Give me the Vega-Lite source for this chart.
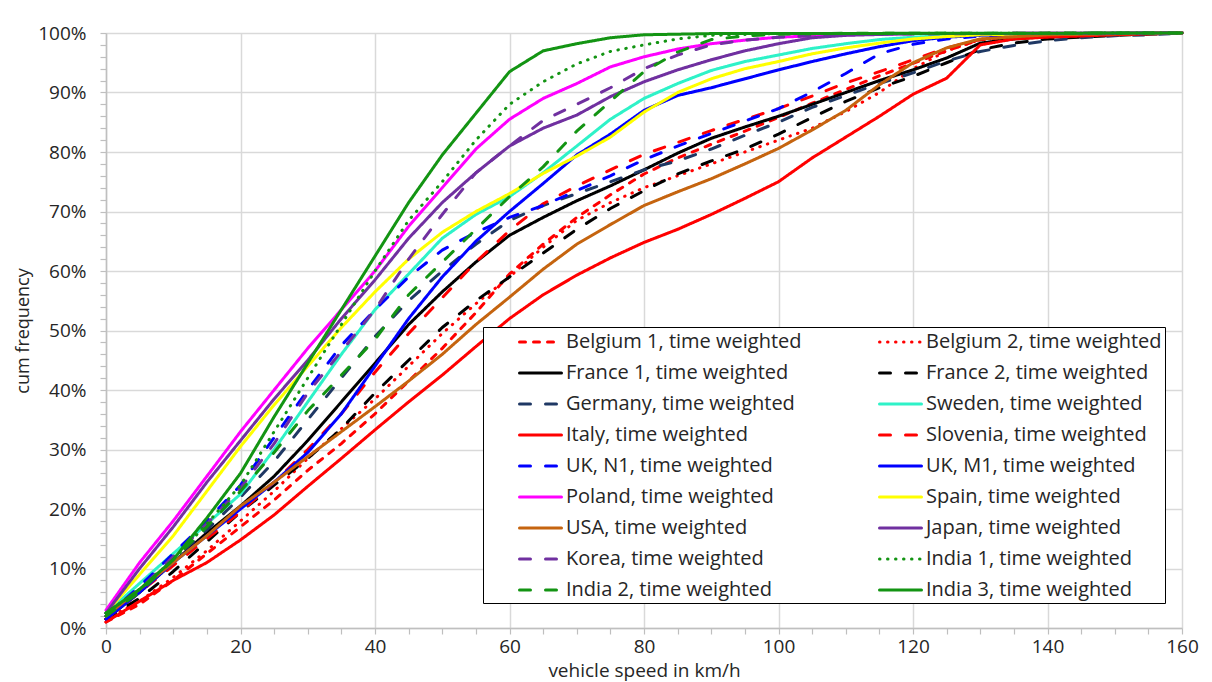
{
  "$schema": "https://vega.github.io/schema/vega-lite/v6.json",
  "width": 1076,
  "height": 595,
  "autosize": {"type": "none"},
  "padding": {"left": 106, "top": 33, "right": 30, "bottom": 54},
  "background": "white",
  "config": {"view": {"stroke": null}, "font": "Open Sans"},
  "data": {"values": [
{"s":"Belgium 1","v":0,"p":1},{"s":"Belgium 1","v":5,"p":4},{"s":"Belgium 1","v":10,"p":8},{"s":"Belgium 1","v":15,"p":12.5},{"s":"Belgium 1","v":20,"p":17},{"s":"Belgium 1","v":25,"p":21.5},{"s":"Belgium 1","v":30,"p":26.5},{"s":"Belgium 1","v":35,"p":31},{"s":"Belgium 1","v":40,"p":36},{"s":"Belgium 1","v":45,"p":41.5},{"s":"Belgium 1","v":50,"p":47},{"s":"Belgium 1","v":55,"p":53},{"s":"Belgium 1","v":60,"p":59.5},{"s":"Belgium 1","v":65,"p":64.5},{"s":"Belgium 1","v":70,"p":69},{"s":"Belgium 1","v":75,"p":72.8},{"s":"Belgium 1","v":80,"p":76.3},{"s":"Belgium 1","v":85,"p":79},{"s":"Belgium 1","v":90,"p":81.3},{"s":"Belgium 1","v":95,"p":83.5},{"s":"Belgium 1","v":100,"p":85.8},{"s":"Belgium 1","v":105,"p":88.2},{"s":"Belgium 1","v":110,"p":90.5},{"s":"Belgium 1","v":115,"p":92.8},{"s":"Belgium 1","v":120,"p":94.9},{"s":"Belgium 1","v":125,"p":97},{"s":"Belgium 1","v":130,"p":98.9},{"s":"Belgium 1","v":135,"p":99.4},{"s":"Belgium 1","v":140,"p":99.7},{"s":"Belgium 1","v":150,"p":99.9},{"s":"Belgium 1","v":160,"p":100},
{"s":"Belgium 2","v":0,"p":1.5},{"s":"Belgium 2","v":5,"p":4.5},{"s":"Belgium 2","v":10,"p":8.5},{"s":"Belgium 2","v":15,"p":13},{"s":"Belgium 2","v":20,"p":18},{"s":"Belgium 2","v":25,"p":23},{"s":"Belgium 2","v":30,"p":28.5},{"s":"Belgium 2","v":35,"p":33.5},{"s":"Belgium 2","v":40,"p":38.5},{"s":"Belgium 2","v":45,"p":44},{"s":"Belgium 2","v":50,"p":49.5},{"s":"Belgium 2","v":55,"p":54.5},{"s":"Belgium 2","v":60,"p":59},{"s":"Belgium 2","v":65,"p":64},{"s":"Belgium 2","v":70,"p":68.5},{"s":"Belgium 2","v":75,"p":71.5},{"s":"Belgium 2","v":80,"p":74},{"s":"Belgium 2","v":85,"p":76},{"s":"Belgium 2","v":90,"p":78},{"s":"Belgium 2","v":95,"p":80},{"s":"Belgium 2","v":100,"p":82},{"s":"Belgium 2","v":105,"p":84},{"s":"Belgium 2","v":110,"p":86.8},{"s":"Belgium 2","v":115,"p":90},{"s":"Belgium 2","v":120,"p":94},{"s":"Belgium 2","v":125,"p":97},{"s":"Belgium 2","v":130,"p":98.9},{"s":"Belgium 2","v":135,"p":99.4},{"s":"Belgium 2","v":140,"p":99.7},{"s":"Belgium 2","v":160,"p":100},
{"s":"France 1","v":0,"p":1.5},{"s":"France 1","v":5,"p":6},{"s":"France 1","v":10,"p":11},{"s":"France 1","v":15,"p":16},{"s":"France 1","v":20,"p":20.5},{"s":"France 1","v":25,"p":25.5},{"s":"France 1","v":30,"p":31.5},{"s":"France 1","v":35,"p":38},{"s":"France 1","v":40,"p":44.5},{"s":"France 1","v":45,"p":51},{"s":"France 1","v":50,"p":56.5},{"s":"France 1","v":55,"p":61.5},{"s":"France 1","v":60,"p":66},{"s":"France 1","v":65,"p":69},{"s":"France 1","v":70,"p":71.8},{"s":"France 1","v":75,"p":74.3},{"s":"France 1","v":80,"p":77},{"s":"France 1","v":85,"p":79.8},{"s":"France 1","v":90,"p":82.3},{"s":"France 1","v":95,"p":84.2},{"s":"France 1","v":100,"p":86},{"s":"France 1","v":105,"p":88},{"s":"France 1","v":110,"p":90},{"s":"France 1","v":115,"p":92},{"s":"France 1","v":120,"p":93.8},{"s":"France 1","v":125,"p":95.8},{"s":"France 1","v":130,"p":98.3},{"s":"France 1","v":135,"p":99},{"s":"France 1","v":140,"p":99.4},{"s":"France 1","v":150,"p":99.8},{"s":"France 1","v":160,"p":100},
{"s":"France 2","v":0,"p":1.5},{"s":"France 2","v":5,"p":5},{"s":"France 2","v":10,"p":9.5},{"s":"France 2","v":15,"p":14.5},{"s":"France 2","v":20,"p":19.5},{"s":"France 2","v":25,"p":24},{"s":"France 2","v":30,"p":28.5},{"s":"France 2","v":35,"p":33.5},{"s":"France 2","v":40,"p":39.5},{"s":"France 2","v":45,"p":45},{"s":"France 2","v":50,"p":50.5},{"s":"France 2","v":55,"p":55},{"s":"France 2","v":60,"p":59},{"s":"France 2","v":65,"p":63},{"s":"France 2","v":70,"p":67},{"s":"France 2","v":75,"p":70.5},{"s":"France 2","v":80,"p":73.5},{"s":"France 2","v":85,"p":76.3},{"s":"France 2","v":90,"p":78.5},{"s":"France 2","v":95,"p":80.5},{"s":"France 2","v":100,"p":83},{"s":"France 2","v":105,"p":85.8},{"s":"France 2","v":110,"p":88.5},{"s":"France 2","v":115,"p":90.8},{"s":"France 2","v":120,"p":92.7},{"s":"France 2","v":125,"p":95},{"s":"France 2","v":130,"p":97.2},{"s":"France 2","v":135,"p":98.3},{"s":"France 2","v":140,"p":99},{"s":"France 2","v":150,"p":99.6},{"s":"France 2","v":160,"p":100},
{"s":"Germany","v":0,"p":2},{"s":"Germany","v":5,"p":6.5},{"s":"Germany","v":10,"p":11.5},{"s":"Germany","v":15,"p":16.5},{"s":"Germany","v":20,"p":22},{"s":"Germany","v":25,"p":28},{"s":"Germany","v":30,"p":35},{"s":"Germany","v":35,"p":42},{"s":"Germany","v":40,"p":49},{"s":"Germany","v":45,"p":55},{"s":"Germany","v":50,"p":60},{"s":"Germany","v":55,"p":64.5},{"s":"Germany","v":60,"p":68.5},{"s":"Germany","v":65,"p":71},{"s":"Germany","v":70,"p":73},{"s":"Germany","v":75,"p":75},{"s":"Germany","v":80,"p":77},{"s":"Germany","v":85,"p":78.5},{"s":"Germany","v":90,"p":80.5},{"s":"Germany","v":95,"p":82.8},{"s":"Germany","v":100,"p":85},{"s":"Germany","v":105,"p":87.5},{"s":"Germany","v":110,"p":89.5},{"s":"Germany","v":115,"p":91.5},{"s":"Germany","v":120,"p":93.3},{"s":"Germany","v":125,"p":95.3},{"s":"Germany","v":130,"p":96.9},{"s":"Germany","v":135,"p":97.9},{"s":"Germany","v":140,"p":98.7},{"s":"Germany","v":145,"p":99.2},{"s":"Germany","v":150,"p":99.55},{"s":"Germany","v":155,"p":99.7},{"s":"Germany","v":160,"p":100},
{"s":"Sweden","v":0,"p":2.5},{"s":"Sweden","v":5,"p":7.5},{"s":"Sweden","v":10,"p":12.5},{"s":"Sweden","v":15,"p":17.5},{"s":"Sweden","v":20,"p":22.5},{"s":"Sweden","v":25,"p":30},{"s":"Sweden","v":30,"p":38},{"s":"Sweden","v":35,"p":46},{"s":"Sweden","v":40,"p":53.5},{"s":"Sweden","v":45,"p":59.5},{"s":"Sweden","v":50,"p":65.5},{"s":"Sweden","v":55,"p":69.5},{"s":"Sweden","v":60,"p":72.5},{"s":"Sweden","v":65,"p":76.5},{"s":"Sweden","v":70,"p":81},{"s":"Sweden","v":75,"p":85.5},{"s":"Sweden","v":80,"p":89},{"s":"Sweden","v":85,"p":91.5},{"s":"Sweden","v":90,"p":93.7},{"s":"Sweden","v":95,"p":95.2},{"s":"Sweden","v":100,"p":96.3},{"s":"Sweden","v":105,"p":97.4},{"s":"Sweden","v":110,"p":98.2},{"s":"Sweden","v":115,"p":98.9},{"s":"Sweden","v":120,"p":99.3},{"s":"Sweden","v":130,"p":99.8},{"s":"Sweden","v":160,"p":100},
{"s":"Italy","v":0,"p":1},{"s":"Italy","v":5,"p":4.5},{"s":"Italy","v":10,"p":8},{"s":"Italy","v":15,"p":11},{"s":"Italy","v":20,"p":14.8},{"s":"Italy","v":25,"p":19},{"s":"Italy","v":30,"p":23.8},{"s":"Italy","v":35,"p":28.5},{"s":"Italy","v":40,"p":33.3},{"s":"Italy","v":45,"p":38},{"s":"Italy","v":50,"p":42.5},{"s":"Italy","v":55,"p":47.3},{"s":"Italy","v":60,"p":52},{"s":"Italy","v":65,"p":56},{"s":"Italy","v":70,"p":59.3},{"s":"Italy","v":75,"p":62.2},{"s":"Italy","v":80,"p":64.8},{"s":"Italy","v":85,"p":67},{"s":"Italy","v":90,"p":69.5},{"s":"Italy","v":95,"p":72.2},{"s":"Italy","v":100,"p":75},{"s":"Italy","v":105,"p":79},{"s":"Italy","v":110,"p":82.5},{"s":"Italy","v":115,"p":86},{"s":"Italy","v":120,"p":89.7},{"s":"Italy","v":125,"p":92.4},{"s":"Italy","v":130,"p":98},{"s":"Italy","v":135,"p":99},{"s":"Italy","v":140,"p":99.3},{"s":"Italy","v":150,"p":99.7},{"s":"Italy","v":160,"p":100},
{"s":"Slovenia","v":0,"p":1.5},{"s":"Slovenia","v":5,"p":6},{"s":"Slovenia","v":10,"p":10.5},{"s":"Slovenia","v":15,"p":15},{"s":"Slovenia","v":20,"p":19.5},{"s":"Slovenia","v":25,"p":24.5},{"s":"Slovenia","v":30,"p":30},{"s":"Slovenia","v":35,"p":36},{"s":"Slovenia","v":40,"p":43},{"s":"Slovenia","v":45,"p":49.5},{"s":"Slovenia","v":50,"p":55.5},{"s":"Slovenia","v":55,"p":61.5},{"s":"Slovenia","v":60,"p":66.8},{"s":"Slovenia","v":65,"p":71.3},{"s":"Slovenia","v":70,"p":74.3},{"s":"Slovenia","v":75,"p":77},{"s":"Slovenia","v":80,"p":79.6},{"s":"Slovenia","v":85,"p":81.6},{"s":"Slovenia","v":90,"p":83.6},{"s":"Slovenia","v":95,"p":85.5},{"s":"Slovenia","v":100,"p":87.3},{"s":"Slovenia","v":105,"p":89.4},{"s":"Slovenia","v":110,"p":91.6},{"s":"Slovenia","v":115,"p":93.5},{"s":"Slovenia","v":120,"p":95.5},{"s":"Slovenia","v":125,"p":97.5},{"s":"Slovenia","v":130,"p":98.9},{"s":"Slovenia","v":135,"p":99.4},{"s":"Slovenia","v":140,"p":99.7},{"s":"Slovenia","v":160,"p":100},
{"s":"UK, N1","v":0,"p":2},{"s":"UK, N1","v":5,"p":7},{"s":"UK, N1","v":10,"p":12.5},{"s":"UK, N1","v":15,"p":18},{"s":"UK, N1","v":20,"p":24},{"s":"UK, N1","v":25,"p":32},{"s":"UK, N1","v":30,"p":40},{"s":"UK, N1","v":35,"p":47.5},{"s":"UK, N1","v":40,"p":53.5},{"s":"UK, N1","v":45,"p":59},{"s":"UK, N1","v":50,"p":63.5},{"s":"UK, N1","v":55,"p":66.5},{"s":"UK, N1","v":60,"p":69},{"s":"UK, N1","v":65,"p":71},{"s":"UK, N1","v":70,"p":73.5},{"s":"UK, N1","v":75,"p":76},{"s":"UK, N1","v":80,"p":78.7},{"s":"UK, N1","v":85,"p":81},{"s":"UK, N1","v":90,"p":83.1},{"s":"UK, N1","v":95,"p":85.2},{"s":"UK, N1","v":100,"p":87.3},{"s":"UK, N1","v":105,"p":90.1},{"s":"UK, N1","v":110,"p":93.2},{"s":"UK, N1","v":115,"p":96.5},{"s":"UK, N1","v":120,"p":98.1},{"s":"UK, N1","v":125,"p":99},{"s":"UK, N1","v":130,"p":99.5},{"s":"UK, N1","v":140,"p":99.8},{"s":"UK, N1","v":160,"p":100},
{"s":"UK, M1","v":0,"p":1.5},{"s":"UK, M1","v":5,"p":6},{"s":"UK, M1","v":10,"p":11},{"s":"UK, M1","v":15,"p":15.5},{"s":"UK, M1","v":20,"p":20},{"s":"UK, M1","v":25,"p":24.5},{"s":"UK, M1","v":30,"p":29.5},{"s":"UK, M1","v":35,"p":36},{"s":"UK, M1","v":40,"p":44},{"s":"UK, M1","v":45,"p":52},{"s":"UK, M1","v":50,"p":59},{"s":"UK, M1","v":55,"p":65},{"s":"UK, M1","v":60,"p":70},{"s":"UK, M1","v":65,"p":74.7},{"s":"UK, M1","v":70,"p":79.5},{"s":"UK, M1","v":75,"p":83},{"s":"UK, M1","v":80,"p":87},{"s":"UK, M1","v":85,"p":89.5},{"s":"UK, M1","v":90,"p":90.8},{"s":"UK, M1","v":95,"p":92.3},{"s":"UK, M1","v":100,"p":93.8},{"s":"UK, M1","v":105,"p":95.2},{"s":"UK, M1","v":110,"p":96.5},{"s":"UK, M1","v":115,"p":97.7},{"s":"UK, M1","v":120,"p":98.7},{"s":"UK, M1","v":125,"p":99.3},{"s":"UK, M1","v":130,"p":99.6},{"s":"UK, M1","v":140,"p":99.9},{"s":"UK, M1","v":160,"p":100},
{"s":"Poland","v":0,"p":3},{"s":"Poland","v":5,"p":11},{"s":"Poland","v":10,"p":18},{"s":"Poland","v":15,"p":25.5},{"s":"Poland","v":20,"p":33},{"s":"Poland","v":25,"p":40},{"s":"Poland","v":30,"p":47},{"s":"Poland","v":35,"p":53.5},{"s":"Poland","v":40,"p":60},{"s":"Poland","v":45,"p":67.5},{"s":"Poland","v":50,"p":74},{"s":"Poland","v":55,"p":80.5},{"s":"Poland","v":60,"p":85.5},{"s":"Poland","v":65,"p":89},{"s":"Poland","v":70,"p":91.5},{"s":"Poland","v":75,"p":94.3},{"s":"Poland","v":80,"p":96},{"s":"Poland","v":85,"p":97.3},{"s":"Poland","v":90,"p":98.2},{"s":"Poland","v":95,"p":98.8},{"s":"Poland","v":100,"p":99.3},{"s":"Poland","v":110,"p":99.7},{"s":"Poland","v":120,"p":99.9},{"s":"Poland","v":160,"p":100},
{"s":"Spain","v":0,"p":2.5},{"s":"Spain","v":5,"p":9},{"s":"Spain","v":10,"p":15.5},{"s":"Spain","v":15,"p":23},{"s":"Spain","v":20,"p":30.5},{"s":"Spain","v":25,"p":37.5},{"s":"Spain","v":30,"p":44},{"s":"Spain","v":35,"p":50.5},{"s":"Spain","v":40,"p":56.5},{"s":"Spain","v":45,"p":62},{"s":"Spain","v":50,"p":66.5},{"s":"Spain","v":55,"p":70},{"s":"Spain","v":60,"p":73},{"s":"Spain","v":65,"p":76.4},{"s":"Spain","v":70,"p":79.3},{"s":"Spain","v":75,"p":82.5},{"s":"Spain","v":80,"p":86.7},{"s":"Spain","v":85,"p":90},{"s":"Spain","v":90,"p":92.3},{"s":"Spain","v":95,"p":94},{"s":"Spain","v":100,"p":95.2},{"s":"Spain","v":105,"p":96.5},{"s":"Spain","v":110,"p":97.5},{"s":"Spain","v":115,"p":98.3},{"s":"Spain","v":120,"p":99},{"s":"Spain","v":125,"p":99.4},{"s":"Spain","v":130,"p":99.7},{"s":"Spain","v":140,"p":99.9},{"s":"Spain","v":160,"p":100},
{"s":"USA","v":0,"p":2},{"s":"USA","v":5,"p":6.5},{"s":"USA","v":10,"p":11},{"s":"USA","v":15,"p":15.5},{"s":"USA","v":20,"p":20.5},{"s":"USA","v":25,"p":24.5},{"s":"USA","v":30,"p":28.8},{"s":"USA","v":35,"p":33},{"s":"USA","v":40,"p":37.2},{"s":"USA","v":45,"p":41.5},{"s":"USA","v":50,"p":46},{"s":"USA","v":55,"p":51},{"s":"USA","v":60,"p":55.6},{"s":"USA","v":65,"p":60.3},{"s":"USA","v":70,"p":64.5},{"s":"USA","v":75,"p":67.8},{"s":"USA","v":80,"p":71},{"s":"USA","v":85,"p":73.3},{"s":"USA","v":90,"p":75.5},{"s":"USA","v":95,"p":78},{"s":"USA","v":100,"p":80.6},{"s":"USA","v":105,"p":83.7},{"s":"USA","v":110,"p":87},{"s":"USA","v":115,"p":91.3},{"s":"USA","v":120,"p":95},{"s":"USA","v":125,"p":97.5},{"s":"USA","v":130,"p":99},{"s":"USA","v":140,"p":99.7},{"s":"USA","v":160,"p":100},
{"s":"Japan","v":0,"p":2.5},{"s":"Japan","v":5,"p":10},{"s":"Japan","v":10,"p":17},{"s":"Japan","v":15,"p":24.5},{"s":"Japan","v":20,"p":31.5},{"s":"Japan","v":25,"p":38.5},{"s":"Japan","v":30,"p":45},{"s":"Japan","v":35,"p":52},{"s":"Japan","v":40,"p":58.5},{"s":"Japan","v":45,"p":65.5},{"s":"Japan","v":50,"p":71.5},{"s":"Japan","v":55,"p":76.5},{"s":"Japan","v":60,"p":81},{"s":"Japan","v":65,"p":84},{"s":"Japan","v":70,"p":86.2},{"s":"Japan","v":75,"p":89.3},{"s":"Japan","v":80,"p":91.8},{"s":"Japan","v":85,"p":93.8},{"s":"Japan","v":90,"p":95.5},{"s":"Japan","v":95,"p":97},{"s":"Japan","v":100,"p":98.2},{"s":"Japan","v":105,"p":99.2},{"s":"Japan","v":110,"p":99.6},{"s":"Japan","v":120,"p":99.9},{"s":"Japan","v":160,"p":100},
{"s":"Korea","v":0,"p":2.5},{"s":"Korea","v":5,"p":6.5},{"s":"Korea","v":10,"p":12},{"s":"Korea","v":15,"p":17.5},{"s":"Korea","v":20,"p":23.5},{"s":"Korea","v":25,"p":31},{"s":"Korea","v":30,"p":39.5},{"s":"Korea","v":35,"p":46.5},{"s":"Korea","v":40,"p":53.5},{"s":"Korea","v":45,"p":62},{"s":"Korea","v":50,"p":69.5},{"s":"Korea","v":55,"p":76.5},{"s":"Korea","v":60,"p":81},{"s":"Korea","v":65,"p":85.3},{"s":"Korea","v":70,"p":88},{"s":"Korea","v":75,"p":90.8},{"s":"Korea","v":80,"p":94},{"s":"Korea","v":85,"p":96.3},{"s":"Korea","v":90,"p":98},{"s":"Korea","v":95,"p":98.8},{"s":"Korea","v":100,"p":99.3},{"s":"Korea","v":110,"p":99.8},{"s":"Korea","v":160,"p":100},
{"s":"India 1","v":0,"p":2.5},{"s":"India 1","v":5,"p":6.5},{"s":"India 1","v":10,"p":11.5},{"s":"India 1","v":15,"p":17.5},{"s":"India 1","v":20,"p":24},{"s":"India 1","v":25,"p":33},{"s":"India 1","v":30,"p":42},{"s":"India 1","v":35,"p":51},{"s":"India 1","v":40,"p":60},{"s":"India 1","v":45,"p":68.5},{"s":"India 1","v":50,"p":75},{"s":"India 1","v":55,"p":82},{"s":"India 1","v":60,"p":88},{"s":"India 1","v":65,"p":91.8},{"s":"India 1","v":70,"p":94.8},{"s":"India 1","v":75,"p":96.9},{"s":"India 1","v":80,"p":98},{"s":"India 1","v":85,"p":99},{"s":"India 1","v":90,"p":99.6},{"s":"India 1","v":100,"p":99.9},{"s":"India 1","v":160,"p":100},
{"s":"India 2","v":0,"p":2},{"s":"India 2","v":5,"p":6},{"s":"India 2","v":10,"p":11.5},{"s":"India 2","v":15,"p":17},{"s":"India 2","v":20,"p":23},{"s":"India 2","v":25,"p":29.5},{"s":"India 2","v":30,"p":36.5},{"s":"India 2","v":35,"p":42.5},{"s":"India 2","v":40,"p":48.5},{"s":"India 2","v":45,"p":56},{"s":"India 2","v":50,"p":61.5},{"s":"India 2","v":55,"p":67},{"s":"India 2","v":60,"p":72.5},{"s":"India 2","v":65,"p":77.5},{"s":"India 2","v":70,"p":83.5},{"s":"India 2","v":75,"p":88.5},{"s":"India 2","v":80,"p":93.5},{"s":"India 2","v":85,"p":96.8},{"s":"India 2","v":90,"p":98.9},{"s":"India 2","v":95,"p":99.5},{"s":"India 2","v":100,"p":99.8},{"s":"India 2","v":110,"p":99.95},{"s":"India 2","v":160,"p":100},
{"s":"India 3","v":0,"p":2.5},{"s":"India 3","v":5,"p":6.5},{"s":"India 3","v":10,"p":11.5},{"s":"India 3","v":15,"p":18.5},{"s":"India 3","v":20,"p":26},{"s":"India 3","v":25,"p":35.5},{"s":"India 3","v":30,"p":44.5},{"s":"India 3","v":35,"p":53.5},{"s":"India 3","v":40,"p":62.5},{"s":"India 3","v":45,"p":71.5},{"s":"India 3","v":50,"p":79.5},{"s":"India 3","v":55,"p":86.5},{"s":"India 3","v":60,"p":93.5},{"s":"India 3","v":65,"p":97},{"s":"India 3","v":70,"p":98.2},{"s":"India 3","v":75,"p":99.2},{"s":"India 3","v":80,"p":99.7},{"s":"India 3","v":90,"p":99.9},{"s":"India 3","v":160,"p":100}
  ]},
  "mark": {"type": "line", "strokeWidth": 3, "strokeCap": "round", "strokeJoin": "round"},
  "encoding": {
    "x": {
      "field": "v", "type": "quantitative",
      "scale": {"domain": [0, 160], "nice": false, "zero": false},
      "axis": {
        "title": "vehicle speed in km/h",
        "values": [0,5,10,15,20,25,30,35,40,45,50,55,60,65,70,75,80,85,90,95,100,105,110,115,120,125,130,135,140,145,150,155,160],
        "labelExpr": "datum.value % 20 === 0 ? datum.label : ''",
        "gridOpacity": {"condition": {"test": "datum.value % 20 === 0", "value": 1}, "value": 0},
        "gridColor": "#D9D9D9", "gridWidth": 1.5,
        "domainColor": "#BFBFBF", "domainWidth": 1.5,
        "tickColor": "#BFBFBF", "tickWidth": 1.2, "tickSize": 6,
        "labelFont": "Open Sans", "labelFontSize": 19, "labelColor": "#262626", "labelPadding": 3,
        "labelFlush": false, "labelOverlap": false,
        "titleFont": "Open Sans", "titleFontSize": 19, "titleFontWeight": "normal", "titleColor": "#262626",
        "titleBaseline": "alphabetic", "titleY": 48,
        "encode": {"ticks": {"update": {"y": {"value": -6}}}}
      }
    },
    "y": {
      "field": "p", "type": "quantitative",
      "scale": {"domain": [0, 100], "nice": false},
      "axis": {
        "title": "cum frequency",
        "values": [0,2,4,6,8,10,12,14,16,18,20,22,24,26,28,30,32,34,36,38,40,42,44,46,48,50,52,54,56,58,60,62,64,66,68,70,72,74,76,78,80,82,84,86,88,90,92,94,96,98,100],
        "labelExpr": "datum.value % 10 === 0 ? datum.value + '%' : ''",
        "gridOpacity": {"condition": {"test": "datum.value % 10 === 0", "value": 1}, "value": 0},
        "gridColor": "#D9D9D9", "gridWidth": 1.5,
        "domainColor": "#BFBFBF", "domainWidth": 1.5,
        "tickColor": "#BFBFBF", "tickWidth": 1.2, "tickSize": 6,
        "labelFont": "Open Sans", "labelFontSize": 19, "labelColor": "#262626", "labelPadding": 14,
        "labelFlush": false, "labelOverlap": false,
        "titleFont": "Open Sans", "titleFontSize": 18, "titleFontWeight": "normal", "titleColor": "#262626", "titlePadding": 5,
        "encode": {"ticks": {"update": {"x": {"value": 6}}}}
      }
    },
    "color": {
      "field": "s", "type": "nominal",
      "scale": {
        "domain": ["Belgium 1","Belgium 2","France 1","France 2","Germany","Sweden","Italy","Slovenia","UK, N1","UK, M1","Poland","Spain","USA","Japan","Korea","India 1","India 2","India 3"],
        "range": ["#FF0000","#FF0000","#000000","#000000","#1F3864","#2EF2C8","#FF0000","#FF0000","#0000FF","#0000FF","#FF00FF","#FFFF00","#C5640F","#7030A0","#7030A0","#139413","#139413","#139413"]
      },
      "legend": {
        "orient": "none", "legendX": 377, "legendY": 294, "columns": 2, "direction": "horizontal", "title": null,
        "labelExpr": "datum.label + ', time weighted'",
        "symbolType": "M-2,0H2", "symbolSize": 441, "symbolStrokeWidth": 3, "symbolFillColor": "transparent",
        "labelFont": "Open Sans", "labelFontSize": 20, "labelColor": "#262626", "labelLimit": 400,
        "strokeColor": "#000000", "fillColor": "white", "padding": 3,
        "rowPadding": 9, "columnPadding": 44, "labelOffset": 13.5, "symbolOffset": 42.5,
        "encode": {"symbols": {"update": {"strokeCap": {"value": "round"}}}}
      }
    },
    "strokeDash": {
      "field": "s", "type": "nominal",
      "scale": {
        "domain": ["Belgium 1","Belgium 2","France 1","France 2","Germany","Sweden","Italy","Slovenia","UK, N1","UK, M1","Poland","Spain","USA","Japan","Korea","India 1","India 2","India 3"],
        "range": [[6,8],[0.5,7.5],[1,0],[11,15],[11,15],[1,0],[1,0],[11,15],[11,15],[1,0],[1,0],[1,0],[1,0],[1,0],[11,15],[0.5,7.5],[11,15],[1,0]]
      },
      "legend": {
        "orient": "none", "legendX": 377, "legendY": 294, "columns": 2, "direction": "horizontal", "title": null,
        "labelExpr": "datum.label + ', time weighted'",
        "symbolType": "M-2,0H2", "symbolSize": 441, "symbolStrokeWidth": 3, "symbolFillColor": "transparent",
        "labelFont": "Open Sans", "labelFontSize": 20, "labelColor": "#262626", "labelLimit": 400,
        "strokeColor": "#000000", "fillColor": "white", "padding": 3,
        "rowPadding": 9, "columnPadding": 44, "labelOffset": 13.5, "symbolOffset": 42.5,
        "encode": {"symbols": {"update": {"strokeCap": {"value": "round"}}}}
      }
    }
  }
}
